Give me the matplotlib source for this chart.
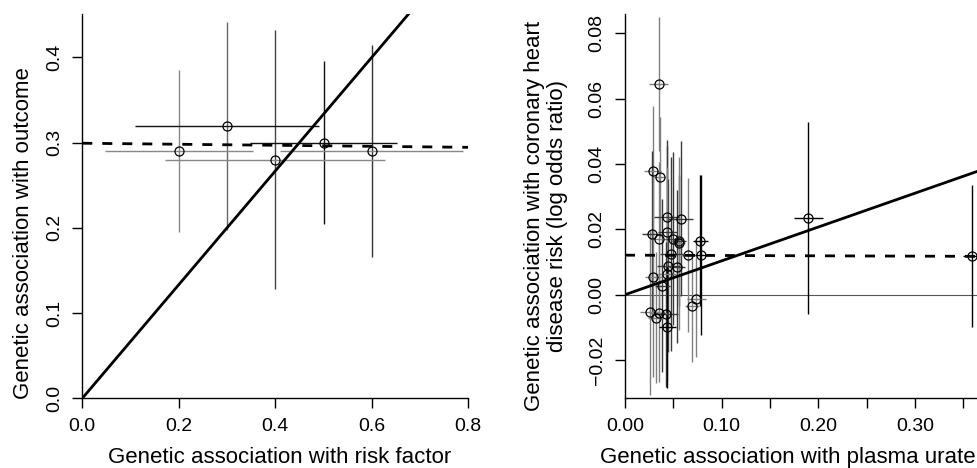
import numpy as np
import matplotlib.pyplot as plt

plt.rcParams['font.family'] = ['Liberation Sans', 'DejaVu Sans']

# ---------------- left panel data ----------------
rf_x = [0.2, 0.3, 0.4, 0.5, 0.6]
out_y = [0.29, 0.32, 0.28, 0.30, 0.29]
rf_half = [0.153, 0.19, 0.228, 0.153, 0.19]
out_half = [0.095, 0.122, 0.152, 0.096, 0.124]
left_ivw_slope = 2 / 3
left_egger_int = 0.2992
left_egger_slope = -0.006

# ---------------- right panel data ----------------
urate_x = [0.0351, 0.0286, 0.0358, 0.0430, 0.0575, 0.0275, 0.0350, 0.0437,
           0.0499, 0.0560, 0.0555, 0.0780, 0.0478, 0.0647, 0.0788, 0.0447,
           0.0540, 0.0430, 0.0293, 0.0386, 0.0737, 0.0695, 0.0258, 0.0320,
           0.0348, 0.0424, 0.0437, 0.1894, 0.3592]
chd_y = [0.0645, 0.0379, 0.0361, 0.0237, 0.0233, 0.0185, 0.0171, 0.0191,
         0.0171, 0.0165, 0.0157, 0.0165, 0.0125, 0.0121, 0.0121, 0.0089,
         0.0086, 0.0063, 0.0053, 0.0028, -0.0012, -0.0035, -0.0054, -0.0070,
         -0.0057, -0.0060, -0.0099, 0.0236, 0.0118]
urate_half = [0.0098, 0.0086, 0.0060, 0.0130, 0.0130, 0.0100, 0.0080, 0.0100,
              0.0080, 0.0070, 0.0070, 0.0080, 0.0120, 0.0080, 0.0060, 0.0120,
              0.0080, 0.0100, 0.0090, 0.0080, 0.0100, 0.0070, 0.0100, 0.0080,
              0.0090, 0.0120, 0.0090, 0.0150, 0.0100]
chd_half = [0.0206, 0.0197, 0.0184, 0.0237, 0.0236, 0.0255, 0.0235, 0.0265,
            0.0265, 0.0200, 0.0265, 0.0200, 0.0296, 0.0235, 0.0244, 0.0265,
            0.0235, 0.0327, 0.0306, 0.0265, 0.0178, 0.0170, 0.0253, 0.0201,
            0.0210, 0.0221, 0.0188, 0.0294, 0.0218]
right_ivw_slope = 0.1036
right_egger_int = 0.0121
right_egger_slope = -0.001

# bar shades (style, not data)
left_v_col = ['#888888', '#666666', '#444444', '#111111', '#333333']
left_h_col = ['#888888', '#111111', '#888888', '#111111', '#888888']
shade = {'g': '#808080', 'd': '#3a3a3a', 'k': '#000000'}
right_codes = 'gggdddgdddgkdgkddggdgggggdkkk'
right_col = [shade[c] for c in right_codes]

fig = plt.figure(figsize=(9.77, 4.68), dpi=100)
W, H = 977, 468


def px_axes(x0, y0, x1, y1):
    return fig.add_axes([x0 / W, 1 - y1 / H, (x1 - x0) / W, (y1 - y0) / H])


def style_axes(ax):
    for s in ['top', 'right']:
        ax.spines[s].set_visible(False)
    for s in ['left', 'bottom']:
        ax.spines[s].set_linewidth(1.0)
    ax.tick_params(direction='out', length=7, width=1.0, labelsize=14)
    ax.tick_params(axis='x', pad=7)
    ax.tick_params(axis='y', labelrotation=90, pad=7)
    for lab in ax.get_yticklabels():
        lab.set_verticalalignment('center')


# ---------------- left panel ----------------
ax1 = px_axes(82.3, 14, 468.3, 398.3)
ax1.set_xlim(0, 0.8)
ax1.set_ylim(0, 0.4508)
ax1.vlines(rf_x, np.array(out_y) - np.array(out_half),
           np.array(out_y) + np.array(out_half), colors=left_v_col, lw=1.0)
ax1.hlines(out_y, np.array(rf_x) - np.array(rf_half),
           np.array(rf_x) + np.array(rf_half), colors=left_h_col, lw=1.0)
ax1.plot(rf_x, out_y, 'o', mfc='none', mec='black', ms=6.5, mew=0.9)
xx = np.array([0, 0.8])
ax1.plot(xx, left_ivw_slope * xx, color='black', lw=2.0)
ax1.plot(xx, left_egger_int + left_egger_slope * xx, color='black', lw=2.0,
         dashes=(3.6, 3.6))
ax1.set_xticks([0.0, 0.2, 0.4, 0.6, 0.8])
ax1.set_xticklabels(['0.0', '0.2', '0.4', '0.6', '0.8'])
ax1.set_yticks([0.0, 0.1, 0.2, 0.3, 0.4])
ax1.set_yticklabels(['0.0', '0.1', '0.2', '0.3', '0.4'])
style_axes(ax1)

# ---------------- right panel ----------------
ax2 = px_axes(625, 14, 977, 398.3)
ax2.set_xlim(0, 352 / 967)
ax2.set_ylim(-0.0317, 0.0859)
ax2.axhline(0, color='#555555', lw=0.8)
ax2.vlines(urate_x, np.array(chd_y) - np.array(chd_half),
           np.array(chd_y) + np.array(chd_half), colors=right_col, lw=1.0)
ax2.hlines(chd_y, np.array(urate_x) - np.array(urate_half),
           np.array(urate_x) + np.array(urate_half), colors=right_col, lw=1.0)
ax2.plot(urate_x, chd_y, 'o', mfc='none', mec='black', ms=6.5, mew=0.9)
xx = np.array([0, 0.37])
ax2.plot(xx, right_ivw_slope * xx, color='black', lw=2.0)
ax2.plot(xx, right_egger_int + right_egger_slope * xx, color='black', lw=2.0,
         dashes=(3.6, 3.6))
ax2.set_xticks(np.arange(0, 0.36, 0.05))
ax2.set_xticklabels(['0.00', '', '0.10', '', '0.20', '', '0.30', ''])
ax2.set_yticks([-0.02, 0.0, 0.02, 0.04, 0.06, 0.08])
ax2.set_yticklabels(['\u22120.02', '0.00', '0.02', '0.04', '0.06', '0.08'])
style_axes(ax2)

# ---------------- axis titles ----------------
fig.text(279.2 / W, 1 - 463 / H, 'Genetic association with risk factor',
         ha='center', va='baseline', fontsize=16)
fig.text(23.5 / W, 1 - 233 / H, 'Genetic association with outcome',
         ha='center', va='center', rotation=90, fontsize=16)
fig.text(787.5 / W, 1 - 463 / H, 'Genetic association with plasma urate',
         ha='center', va='baseline', fontsize=16)
fig.text(546.3 / W, 1 - 216 / H,
         'Genetic association with coronary heart\ndisease risk (log odds ratio)',
         ha='center', va='center', rotation=90, fontsize=16,
         multialignment='center', linespacing=1.15)

fig.savefig('out.png', dpi=100)
